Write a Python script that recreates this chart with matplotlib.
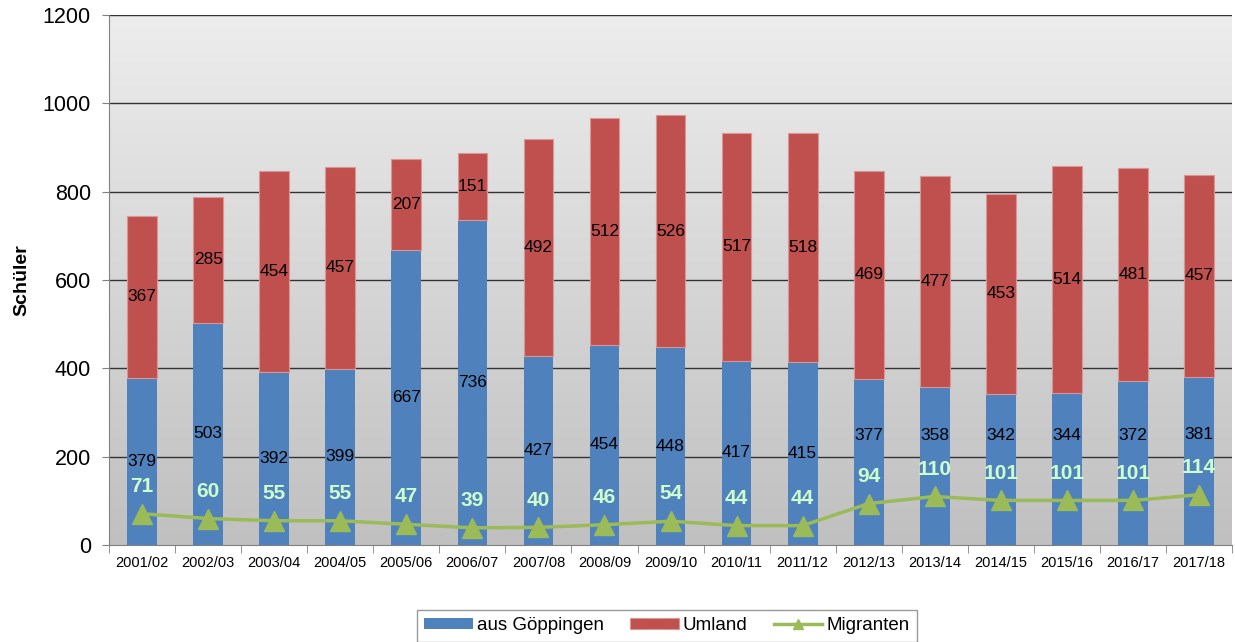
import numpy as np
import matplotlib.pyplot as plt

jahre = ['2001/02', '2002/03', '2003/04', '2004/05', '2005/06', '2006/07', '2007/08',
         '2008/09', '2009/10', '2010/11', '2011/12', '2012/13', '2013/14', '2014/15',
         '2015/16', '2016/17', '2017/18']
goeppingen = [379, 503, 392, 399, 667, 736, 427, 454, 448, 417, 415, 377, 358, 342, 344, 372, 381]
umland = [367, 285, 454, 457, 207, 151, 492, 512, 526, 517, 518, 469, 477, 453, 514, 481, 457]
migranten = [71, 60, 55, 55, 47, 39, 40, 46, 54, 44, 44, 94, 110, 101, 101, 101, 114]

plt.rcParams['font.family'] = ['Liberation Sans', 'DejaVu Sans']

fig = plt.figure(figsize=(12.35, 6.42), dpi=100)
ax = fig.add_axes([0.0883, 0.151, 0.9093, 0.8256])

x = np.arange(len(jahre))
ax.set_xlim(-0.5, len(jahre) - 0.5)
ax.set_ylim(0, 1200)

# hintergrund verlauf
grad = np.linspace(0, 1, 256).reshape(-1, 1)
ax.imshow(grad, extent=[0, 1, 0, 1], transform=ax.transAxes, aspect='auto',
          cmap=plt.matplotlib.colors.LinearSegmentedColormap.from_list('g', ['#ededed', '#c0c0c0']),
          origin='upper', zorder=0)

for yv in range(200, 1201, 200):
    ax.axhline(yv, color='#333333', lw=1, zorder=1)

b1 = ax.bar(x, goeppingen, width=0.45, color='#4f81bd', zorder=2, label='aus Göppingen')
b2 = ax.bar(x, umland, width=0.45, bottom=goeppingen, color='#c0504d', edgecolor='#d99694',
            lw=0.8, zorder=2, label='Umland')
ln, = ax.plot(x, migranten, color='#9bbb59', lw=2.5, marker='^', ms=14, zorder=3, label='Migranten')

for i in range(len(jahre)):
    yg = goeppingen[i] / 2
    if i >= 11:
        # labels ab 2012/13 nach oben verschoben, sonst ueberlappen sie
        yg = max(yg + 60, 248)
    ax.text(x[i], yg, str(goeppingen[i]), ha='center', va='center',
            fontsize=12.5, zorder=4)
    ax.text(x[i], goeppingen[i] + umland[i] / 2, str(umland[i]), ha='center', va='center',
            fontsize=12.5, zorder=4)
    ax.text(x[i], migranten[i] + 62, str(migranten[i]), ha='center', va='center',
            fontsize=15, fontweight='bold', color='#ccffcc', zorder=4)

ax.set_yticks(range(0, 1201, 200))
ax.tick_params(axis='y', labelsize=15.5, length=5, color='#808080', pad=8)
ax.set_xticks(x)
ax.set_xticklabels(jahre, fontsize=10.5)
ax.tick_params(axis='x', length=0, pad=8)
ax.set_xticks(np.arange(-0.5, len(jahre), 1), minor=True)
ax.tick_params(axis='x', which='minor', length=6, color='#808080')
ax.set_ylabel('Schüler', fontsize=14, fontweight='bold', labelpad=9)

for s in ['top', 'right']:
    ax.spines[s].set_visible(False)
ax.spines['left'].set_color('#808080')
ax.spines['bottom'].set_color('#808080')

fig.legend(handles=[b1, b2, ln], loc='center', bbox_to_anchor=(0.54, 0.025),
           ncol=3, fontsize=13.5, frameon=True, fancybox=False, edgecolor='#808080',
           handlelength=2.6, handleheight=0.5, handletextpad=0.2, columnspacing=1.4,
           markerscale=0.5, borderpad=0.4)

fig.savefig('out.png', dpi=100)
